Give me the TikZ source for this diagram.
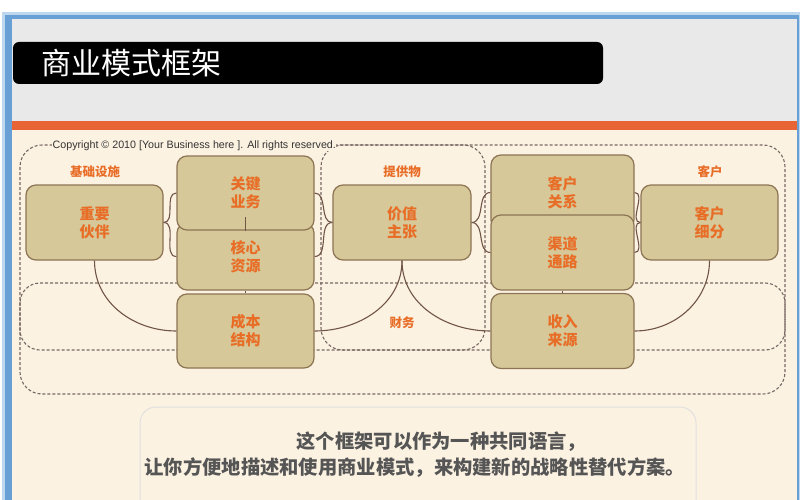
\documentclass[tikz,border=0pt]{standalone}
\usepackage{fontspec}
\setmainfont{Liberation Sans}
\newfontfamily\cjk{Noto Sans CJK SC}
\usepackage{tikz}
\usetikzlibrary{shapes,arrows}
\definecolor{framelight}{RGB}{188,215,238}
\definecolor{framemid}{RGB}{104,160,214}
\definecolor{headgray}{RGB}{233,233,233}
\definecolor{stripe}{RGB}{232,100,52}
\definecolor{cream}{RGB}{252,242,226}
\definecolor{boxfill}{RGB}{214,200,152}
\definecolor{boxline}{RGB}{140,116,84}
\definecolor{boxtext}{RGB}{232,110,40}
\definecolor{linkline}{RGB}{112,84,70}
\definecolor{groupline}{RGB}{120,104,100}
\definecolor{notetext}{RGB}{85,85,85}
\tikzstyle{block} = [rectangle, draw=boxline, fill=boxfill, line width=1.2pt,
    minimum width=137pt, minimum height=75pt, rounded corners=10pt,
    text=boxtext, align=center, font=\cjk\bfseries\fontsize{15}{18}\selectfont]
\tikzstyle{line} = [draw=linkline, line width=1.1pt]
\tikzstyle{group} = [draw=groupline, dash pattern=on 3pt off 2pt, line width=1.1pt,
    rounded corners=22pt]
\tikzstyle{tag} = [text=boxtext, font=\cjk\bfseries\fontsize{12.5}{14}\selectfont]
\tikzstyle{note} = [text=notetext, anchor=west, font=\cjk\bfseries\fontsize{19.3}{22}\selectfont]

\begin{document}
\begin{tikzpicture}[x=1pt, y=-1pt]
    \useasboundingbox (0,0) rectangle (800,500);
    % Slide background
    \fill[white] (0,0) rectangle (800,500);
    \fill[framelight] (2,12) rectangle (800,500);
    \fill[framemid] (5,15) rectangle (799,500);
    \fill[cream] (12,19) rectangle (797,500);
    \fill[headgray] (12,19) rectangle (797,121);
    \fill[stripe] (12,121) rectangle (797,130);
    \node [fill=black, rounded corners=6pt, minimum width=590pt, minimum height=42pt]
        (titlebar) at (308,63) {};
    \node [anchor=west, text=white, font=\cjk\fontsize{30}{32}\selectfont]
        (title) at (38,63) {商业模式框架};
    % Groups
    \path [group] (20,145) rectangle (785,394);
    \path [group] (321,145) rectangle (485,350);
    \path [group, rounded corners=20pt] (20,283) rectangle (785,350);
    \node [fill=cream, inner sep=0.5pt, anchor=west, text=black!80,
        font=\fontsize{10.7}{11}\selectfont] (copyright) at (52,146)
        {Copyright © 2010 [Your Business here ]. All rights reserved.};
    \node [tag] (infra) at (95,172) {基础设施};
    \node [tag] (offer) at (402,172) {提供物};
    \node [tag] (customer) at (710,172) {客户};
    \node [tag] (finance) at (402,323) {财务};
    % Place nodes
    \node [block] (partners) at (94.5,222.5) {重要\\伙伴};
    \node [block, minimum height=67pt] (resources) at (245.5,256.5) {核心\\资源};
    \node [block, minimum height=74pt] (activities) at (245.5,193) {关键\\业务};
    \node [block, minimum height=74pt] (costs) at (245.5,331) {成本\\结构};
    \node [block, minimum width=138pt] (value) at (402,222.5) {价值\\主张};
    \node [block, minimum width=143pt] (relations) at (562.5,192.5) {客户\\关系};
    \node [block, minimum width=143pt] (channels) at (562.5,252.5) {渠道\\通路};
    \node [block, minimum width=143pt] (revenue) at (562.5,331) {收入\\来源};
    \node [block] (segments) at (709.5,222.5) {客户\\细分};
    \coordinate (link) at ([yshift=14pt]activities.south);
    % Draw edges
    \path [line] (partners.east) to[out=0, in=180] (activities.west);
    \path [line] (partners.east) to[out=0, in=180] (resources.west);
    \path [line] (activities.east) to[out=0, in=180] (value.west);
    \path [line] (resources.east) to[out=0, in=180] (value.west);
    \path [line] (value.east) to[out=0, in=180] (relations.west);
    \path [line] (value.east) to[out=0, in=180] (channels.west);
    \path [line] (relations.east) to[out=0, in=180] (segments.west);
    \path [line] (channels.east) to[out=0, in=180] (segments.west);
    \path [line] (activities.south) -- (link);
    \path [line] (resources.south) -- (costs.north);
    \path [line] (channels.south) -- (revenue.north);
    \path [line] (partners.south) to[out=-90, in=180] (costs.west);
    \path [line] (value.south) to[out=-90, in=0] (costs.east);
    \path [line] (value.south) to[out=-90, in=180] (revenue.west);
    \path [line] (segments.south) to[out=-90, in=0] (revenue.east);
    % Caption box
    \path [draw=black!12, line width=1pt, rounded corners=16pt] (140,407) rectangle (696,520);
    \node [note] (line1) at (293,442) {这个框架可以作为一种共同语言，};
    \node [note] (line2) at (141,468) {让你方便地描述和使用商业模式，来构建新的战略性替代方案。};
\end{tikzpicture}
\end{document}
